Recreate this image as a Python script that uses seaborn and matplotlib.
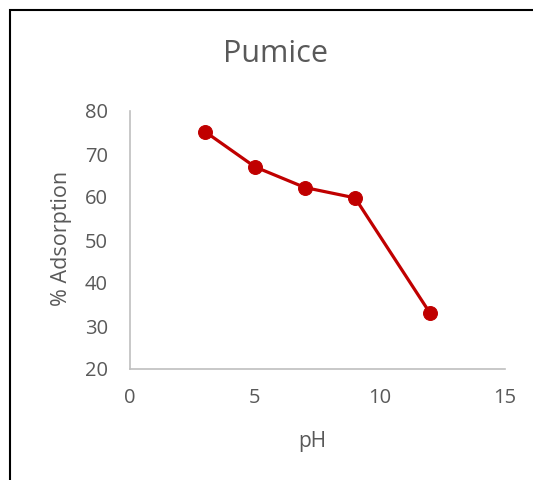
import matplotlib
matplotlib.use("Agg")
import matplotlib.pyplot as plt
import seaborn as sns
import pandas as pd
from matplotlib.patches import Rectangle

ph = [3, 5, 7, 9, 12]
adsorption = [75.2, 67.0, 62.2, 59.8, 33.0]
x_ticks = [0, 5, 10, 15]
y_ticks = [20, 30, 40, 50, 60, 70, 80]

sns.set_theme(style="white")
plt.rcParams['font.family'] = ['Open Sans', 'DejaVu Sans']

df = pd.DataFrame({"pH": ph, "ads": adsorption})

fig = plt.figure(figsize=(5.33, 4.8), dpi=100)
ax = fig.add_axes([130/533, 1-369/480, 375/533, 258/480])

sns.lineplot(data=df, x="pH", y="ads", ax=ax, color="#c00000", linewidth=2.3,
             marker="o", markersize=10, markeredgecolor="#c00000", markerfacecolor="#c00000")

ax.set_xlim(0, 15)
ax.set_ylim(20, 80)
ax.set_xticks(x_ticks)
ax.set_yticks(y_ticks)
ax.tick_params(axis="both", length=0, labelsize=14.5, colors="#595959")
ax.tick_params(axis="y", pad=16)
ax.tick_params(axis="x", pad=14)
for s in ["top", "right"]:
    ax.spines[s].set_visible(False)
for s in ["left", "bottom"]:
    ax.spines[s].set_color("#bfbfbf")
    ax.spines[s].set_linewidth(1.2)
ax.set_xlabel("")
ax.set_ylabel("")

fig.text(312/533, 1-442/480, "pH", ha="center", va="center", fontsize=15, color="#595959")
fig.text(62/533, 1-238/480, "% Adsorption", ha="center", va="center", rotation=90, fontsize=15.5, color="#595959")
fig.text(276/533, 1-54/480, "Pumice", ha="center", va="center", fontsize=22, color="#595959")

fig.patches.append(Rectangle((10/533, -0.1), 1.2, 1.1 - 10/480, transform=fig.transFigure,
                             fill=False, edgecolor="black", linewidth=1.5))

fig.savefig("out.png", dpi=100)
